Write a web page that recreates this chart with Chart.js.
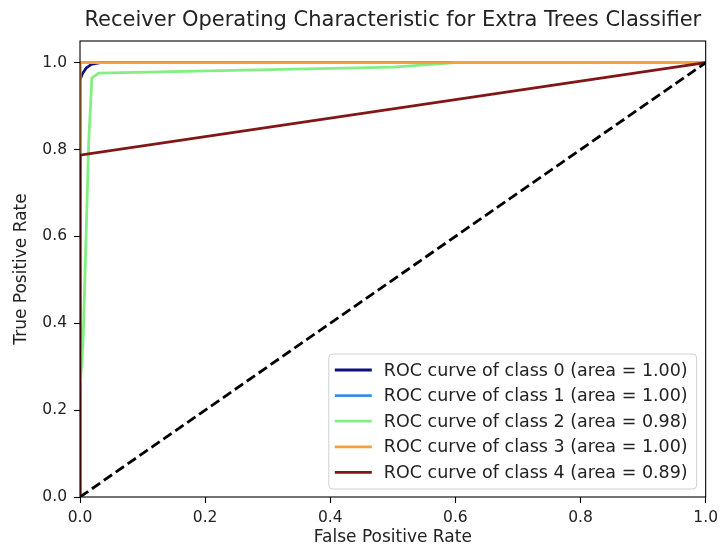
<!DOCTYPE html>
<html>
<head>
<meta charset="utf-8">
<script src="https://cdn.jsdelivr.net/npm/chart.js@4.4.0/dist/chart.umd.min.js"></script>
<style>
  html, body { margin: 0; padding: 0; background: #fff; }
  #wrap { width: 724px; height: 549px; }
</style>
</head>
<body>
<div id="wrap"><canvas id="c" width="724" height="549"></canvas></div>
<script>
// ---- data ----
const chartTitle = 'Receiver Operating Characteristic for Extra Trees Classifier';
const xTicks = [0.0, 0.2, 0.4, 0.6, 0.8, 1.0];
const yTicks = [0.0, 0.2, 0.4, 0.6, 0.8, 1.0];

const labels = [
  "ROC curve of class 0 (area = 1.00)",
  "ROC curve of class 1 (area = 1.00)",
  "ROC curve of class 2 (area = 0.98)",
  "ROC curve of class 3 (area = 1.00)",
  "ROC curve of class 4 (area = 0.89)"
];
const colors = ["#10107a", "#3a8ee0", "#82ef82", "#f5a23c", "#821616"];

const fpr0 = [0, 0, 0.004, 0.010, 0.018, 0.032, 1];
const tpr0 = [0, 0.96, 0.975, 0.988, 0.996, 1.0, 1];
const fpr1 = [0, 0, 1];
const tpr1 = [0, 1, 1];
const fpr2 = [0, 0, 0.005, 0.014, 0.019, 0.030, 0.50, 0.60, 1];
const tpr2 = [0, 0.25, 0.36, 0.82, 0.965, 0.976, 0.99, 1.0, 1];
const fpr3 = [0, 0, 1];
const tpr3 = [0, 1, 1];
const fpr4 = [0, 0, 1];
const tpr4 = [0, 0.787, 1];
const diagX = [0, 1];
const diagY = [0, 1];

const fprs = [fpr0, fpr1, fpr2, fpr3, fpr4];
const tprs = [tpr0, tpr1, tpr2, tpr3, tpr4];

const toPts = (xs, ys) => xs.map((x, i) => ({ x: x, y: ys[i] }));

const datasets = fprs.map((f, i) => ({
  label: labels[i],
  data: toPts(f, tprs[i]),
  borderColor: colors[i],
  backgroundColor: colors[i],
  borderWidth: 2.8,
  showLine: true,
  pointRadius: 0,
  tension: 0,
  order: 10 - i
}));
datasets.push({
  label: "",
  data: toPts(diagX, diagY),
  borderColor: "#000",
  borderWidth: 2.8,
  borderDash: [10, 4.5],
  showLine: true,
  pointRadius: 0,
  order: 1
});

Chart.defaults.font.family = "'DejaVu Sans', sans-serif";
Chart.defaults.color = "#222";

const framePlugin = {
  id: 'frame',
  afterDatasetsDraw(chart) {
    const { ctx, chartArea: a } = chart;
    ctx.save();
    ctx.strokeStyle = '#000';
    ctx.lineWidth = 1.1;
    ctx.strokeRect(a.left, a.top, a.right - a.left, a.bottom - a.top);
    ctx.restore();
  }
};

const axesTitle = {
  id: 'axesTitle',
  afterDraw(chart) {
    const { ctx, chartArea: a } = chart;
    ctx.save();
    ctx.font = "21px 'DejaVu Sans'";
    ctx.fillStyle = '#222';
    ctx.textAlign = 'center';
    ctx.textBaseline = 'middle';
    ctx.fillText(chartTitle, (a.left + a.right) / 2, a.top - 20.5);
    ctx.restore();
  }
};

const innerLegend = {
  id: 'innerLegend',
  afterDraw(chart) {
    const { ctx, chartArea: a } = chart;
    const items = chart.data.datasets.filter(d => d.label);
    ctx.save();
    ctx.font = "17.5px 'DejaVu Sans'";
    let tw = 0;
    items.forEach(d => { tw = Math.max(tw, ctx.measureText(d.label).width); });
    const rowH = 25.6;
    const w = tw + 55 + 9;
    const h = rowH * items.length + 7;
    const right = a.right - 9;
    const bottom = a.bottom - 8;
    const left = right - w;
    const top = bottom - h;
    ctx.beginPath();
    const r = 4;
    ctx.moveTo(left + r, top);
    ctx.lineTo(right - r, top);
    ctx.quadraticCurveTo(right, top, right, top + r);
    ctx.lineTo(right, bottom - r);
    ctx.quadraticCurveTo(right, bottom, right - r, bottom);
    ctx.lineTo(left + r, bottom);
    ctx.quadraticCurveTo(left, bottom, left, bottom - r);
    ctx.lineTo(left, top + r);
    ctx.quadraticCurveTo(left, top, left + r, top);
    ctx.closePath();
    ctx.fillStyle = 'rgba(255,255,255,0.8)';
    ctx.fill();
    ctx.strokeStyle = '#d0d0d0';
    ctx.lineWidth = 1;
    ctx.stroke();
    items.forEach((d, i) => {
      const cy = top + 16 + i * rowH;
      ctx.beginPath();
      ctx.moveTo(left + 6, cy);
      ctx.lineTo(left + 43, cy);
      ctx.strokeStyle = d.borderColor;
      ctx.lineWidth = 2.8;
      ctx.stroke();
      ctx.fillStyle = '#222';
      ctx.textBaseline = 'middle';
      ctx.textAlign = 'left';
      ctx.fillText(d.label, left + 55, cy + 1);
    });
    ctx.restore();
  }
};

new Chart(document.getElementById('c'), {
  type: 'scatter',
  data: { datasets: datasets },
  options: {
    responsive: false,
    animation: false,
    devicePixelRatio: 1,
    layout: { padding: { top: 41, left: 0, right: 14, bottom: 0 } },
    plugins: {
      legend: { display: false },
      tooltip: { enabled: false },
      title: { display: false }
    },
    scales: {
      x: {
        type: 'linear',
        min: 0, max: 1,
        afterBuildTicks: s => { s.ticks = xTicks.map(v => ({ value: v })); },
        afterFit: s => { s.height = 52; },
        ticks: {
          font: { size: 15.5 },
          color: '#222',
          padding: 6,
          maxRotation: 0,
          callback: v => Number(v).toFixed(1)
        },
        grid: { display: true, drawOnChartArea: false, drawTicks: true, tickLength: 6, tickColor: '#000', tickWidth: 1.1 },
        border: { display: false },
        title: { display: true, text: 'False Positive Rate', font: { size: 17 }, color: '#222', padding: { top: 0, bottom: 1 } }
      },
      y: {
        type: 'linear',
        min: 0, max: 1.05,
        afterBuildTicks: s => { s.ticks = yTicks.map(v => ({ value: v })); },
        afterFit: s => { s.width = 80; },
        ticks: {
          font: { size: 15.5 },
          color: '#222',
          padding: 7,
          callback: v => Number(v).toFixed(1)
        },
        grid: { display: true, drawOnChartArea: false, drawTicks: true, tickLength: 6, tickColor: '#000', tickWidth: 1.1 },
        border: { display: false },
        title: { display: true, text: 'True Positive Rate', font: { size: 17 }, color: '#222', padding: { top: 11, bottom: 0 } }
      }
    }
  },
  plugins: [framePlugin, axesTitle, innerLegend]
});
</script>
</body>
</html>
